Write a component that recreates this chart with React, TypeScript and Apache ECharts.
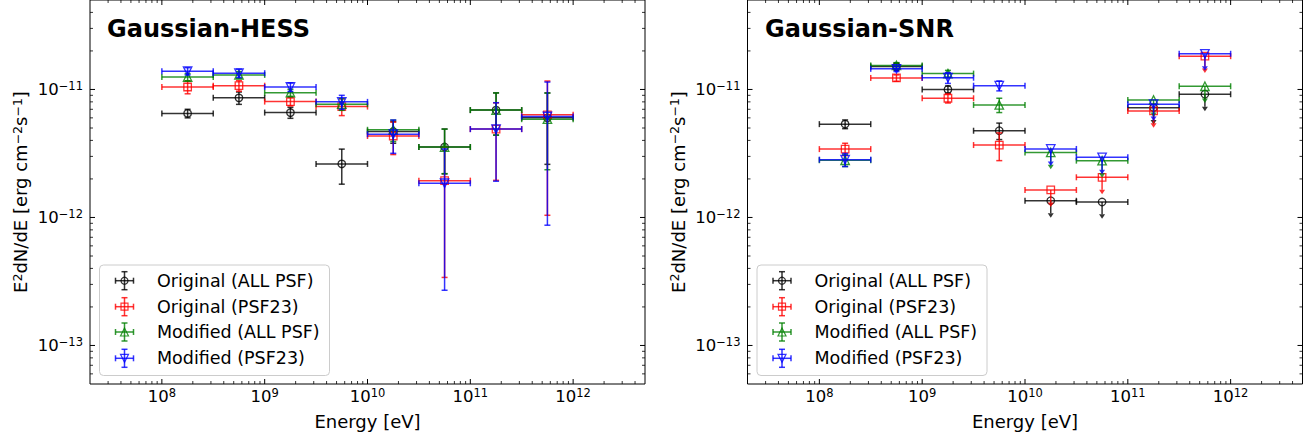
import React, { useEffect, useRef } from "react";
import * as echarts from "echarts";

// Energy bins (eV): half-decade bins
const binLow = [1e8, 3.16e8, 1e9, 3.16e9, 1e10, 3.16e10, 1e11, 3.16e11];
const binHigh = [3.16e8, 1e9, 3.16e9, 1e10, 3.16e10, 1e11, 3.16e11, 1e12];
const binCenter = [1.78e8, 5.62e8, 1.78e9, 5.62e9, 1.78e10, 5.62e10, 1.78e11, 5.62e11];

const seriesNames = ["Original (ALL PSF)", "Original (PSF23)", "Modified (ALL PSF)", "Modified (PSF23)"];
const seriesColors = ["#000000", "#ff0000", "#008000", "#0000ff"];

// Gaussian-HESS: E^2 dN/dE [erg cm^-2 s^-1] and symmetric errors
const hessOrigAll = [6.5e-12, 8.6e-12, 6.6e-12, 2.62e-12, 4.7e-12, 3.55e-12, 6.9e-12, 6.0e-12];
const hessOrigAllErr = [0.5e-12, 0.95e-12, 0.65e-12, 0.8e-12, 0.9e-12, 1.36e-12, 2.5e-12, 3.4e-12];
const hessOrigPsf23 = [1.045e-11, 1.07e-11, 8.04e-12, 7.35e-12, 4.33e-12, 1.94e-12, 4.9e-12, 6.34e-12];
const hessOrigPsf23Err = [1.2e-12, 1.0e-12, 0.6e-12, 1.1e-12, 1.23e-12, 1.6e-12, 2.95e-12, 5.3e-12];
const hessModAll = [1.25e-11, 1.3e-11, 9.44e-12, 7.67e-12, 4.84e-12, 3.55e-12, 6.9e-12, 5.86e-12];
const hessModAllErr = [0.8e-12, 0.8e-12, 0.6e-12, 0.8e-12, 0.92e-12, 1.35e-12, 2.5e-12, 3.5e-12];
const hessModPsf23 = [1.39e-11, 1.34e-11, 1.045e-11, 8.0e-12, 4.47e-12, 1.85e-12, 4.9e-12, 6.15e-12];
const hessModPsf23Err = [0.9e-12, 1.0e-12, 0.8e-12, 1.0e-12, 1.3e-12, 1.58e-12, 2.98e-12, 5.28e-12];
const hessUpperLimit = [0, 0, 0, 0, 0, 0, 0, 0];

// Gaussian-SNR
const snrOrigAll = [5.36e-12, 1.51e-11, 1.0e-11, 4.76e-12, 1.35e-12, 1.32e-12, 7.21e-12, 9.18e-12];
const snrOrigAllErr = [0.42e-12, 0.1e-11, 0.65e-12, 0.7e-12, 0.27e-12, 0.26e-12, 1.44e-12, 1.84e-12];
const snrOrigPsf23 = [3.42e-12, 1.23e-11, 8.54e-12, 3.68e-12, 1.64e-12, 2.06e-12, 6.8e-12, 1.82e-11];
const snrOrigPsf23Err = [0.38e-12, 0.07e-11, 0.7e-12, 0.9e-12, 0.33e-12, 0.41e-12, 1.36e-12, 0.36e-11];
const snrModAll = [2.8e-12, 1.54e-11, 1.33e-11, 7.57e-12, 3.22e-12, 2.78e-12, 8.28e-12, 1.06e-11];
const snrModAllErr = [0.3e-12, 0.08e-11, 0.08e-11, 0.97e-12, 0.64e-12, 0.56e-12, 1.66e-12, 0.21e-11];
const snrModPsf23 = [2.83e-12, 1.45e-11, 1.235e-11, 1.07e-11, 3.43e-12, 2.95e-12, 7.67e-12, 1.9e-11];
const snrModPsf23Err = [0.33e-12, 0.07e-11, 0.12e-11, 0.95e-12, 0.69e-12, 0.59e-12, 1.53e-12, 0.38e-11];
const snrUpperLimit = [0, 0, 0, 0, 1, 1, 1, 1];

const X_MIN = 2e7;
const X_MAX = 5e12;
const Y_MIN = 5e-14;
const Y_MAX = 5e-11;

const FONT = "DejaVu Sans";
const TICK_FS = 16.5;
const SUP_FS = 11.5;
const LABEL_FS = 18;
const LEGEND_FS = 17.5;
const LINE_W = 1.5;
const ALPHA = 0.8;
const CAP = 3;

const GRID_TOP = -1.5;
const GRID_H = 385.5;
const GRID_W = 555;
const GRID_LEFTS = [90, 747.5];

const markerSymbols = ["circle", "rect", "triangle", "triangle"];
const markerRotate = [0, 0, 0, 180];
const markerSizes = [7.5, 7.5, 8.5, 8.5];

function powerLabel(v: number): string {
  const e = Math.log10(v);
  const r = Math.round(e);
  if (Math.abs(e - r) > 1e-6) return "";
  const exp = r < 0 ? "\u2212" + Math.abs(r) : String(r);
  return `{b|10}{s|${exp}}`;
}

const powerRich = {
  b: { fontSize: TICK_FS, fontFamily: FONT, color: "#000", verticalAlign: "bottom", lineHeight: 18 },
  s: { fontSize: SUP_FS, fontFamily: FONT, color: "#000", verticalAlign: "top", lineHeight: 13, padding: [0, 0, 9, 0] },
};

function errorBarRenderer(color: string) {
  return (params: any, api: any) => {
    const xc = api.value(0);
    const yv = api.value(1);
    const c = api.coord([xc, yv]);
    const xl = api.coord([api.value(2), yv]);
    const xh = api.coord([api.value(3), yv]);
    const yl = api.coord([xc, api.value(4)]);
    const yh = api.coord([xc, api.value(5)]);
    const ul = api.value(6) === 1;
    const st = { stroke: color, lineWidth: LINE_W, opacity: ALPHA };
    const kids: any[] = [
      { type: "line", shape: { x1: xl[0], y1: c[1], x2: xh[0], y2: c[1] }, style: st },
      { type: "line", shape: { x1: xl[0], y1: c[1] - CAP, x2: xl[0], y2: c[1] + CAP }, style: st },
      { type: "line", shape: { x1: xh[0], y1: c[1] - CAP, x2: xh[0], y2: c[1] + CAP }, style: st },
      { type: "line", shape: { x1: c[0], y1: yl[1], x2: c[0], y2: yh[1] }, style: st },
    ];
    if (ul) {
      kids.push({
        type: "polygon",
        shape: { points: [[c[0] - 3, yl[1]], [c[0] + 3, yl[1]], [c[0], yl[1] + 4.5]] },
        style: { fill: color, opacity: ALPHA },
      });
    } else {
      kids.push({ type: "line", shape: { x1: c[0] - CAP, y1: yl[1], x2: c[0] + CAP, y2: yl[1] }, style: st });
      kids.push({ type: "line", shape: { x1: c[0] - CAP, y1: yh[1], x2: c[0] + CAP, y2: yh[1] }, style: st });
    }
    return { type: "group", children: kids };
  };
}

// Ticks on all four sides (major and minor), pointing inwards
function tickData() {
  const d: number[][] = [];
  for (let e = 7; e <= 12; e++) {
    for (let m = 1; m <= 9; m++) {
      const v = m * Math.pow(10, e);
      if (v <= X_MIN * 1.0001 || v >= X_MAX * 0.9999) continue;
      d.push([v, Y_MIN, m === 1 ? 2 : 0]);
    }
  }
  for (let e = -14; e <= -11; e++) {
    for (let m = 1; m <= 9; m++) {
      const v = m * Math.pow(10, e);
      if (v <= Y_MIN * 1.0001 || v >= Y_MAX * 0.9999) continue;
      d.push([X_MIN, v, m === 1 ? 3 : 1]);
    }
  }
  return d;
}

function tickRenderer(params: any, api: any) {
  const cs = params.coordSys;
  const kind = api.value(2);
  const p = api.coord([api.value(0), api.value(1)]);
  const major = kind >= 2;
  const len = major ? 5 : 3;
  const st = { stroke: "#000", lineWidth: major ? 1 : 0.8 };
  const top = cs.y;
  const bottom = cs.y + cs.height;
  const left = cs.x;
  const right = cs.x + cs.width;
  if (kind === 0 || kind === 2) {
    return {
      type: "group",
      children: [
        { type: "line", shape: { x1: p[0], y1: bottom, x2: p[0], y2: bottom - len }, style: st },
        { type: "line", shape: { x1: p[0], y1: top, x2: p[0], y2: top + len }, style: st },
      ],
    };
  }
  return {
    type: "group",
    children: [
      { type: "line", shape: { x1: left, y1: p[1], x2: left + len, y2: p[1] }, style: st },
      { type: "line", shape: { x1: right, y1: p[1], x2: right - len, y2: p[1] }, style: st },
    ],
  };
}

function legendGroup(x: number, y: number) {
  const children: any[] = [
    {
      type: "rect",
      shape: { x: 0, y: 0, width: 230, height: 110.5, r: 4 },
      style: { fill: "rgba(255,255,255,0.8)", stroke: "#cccccc", lineWidth: 1 },
    },
  ];
  const rowY = [15.7, 41.7, 67, 93.3];
  const gx = 25;
  seriesNames.forEach((name, i) => {
    const cy = rowY[i];
    const color = seriesColors[i];
    const st = { stroke: color, lineWidth: LINE_W, opacity: ALPHA };
    children.push(
      { type: "line", shape: { x1: gx - 9, y1: cy, x2: gx + 9, y2: cy }, style: st },
      { type: "line", shape: { x1: gx - 9, y1: cy - CAP, x2: gx - 9, y2: cy + CAP }, style: st },
      { type: "line", shape: { x1: gx + 9, y1: cy - CAP, x2: gx + 9, y2: cy + CAP }, style: st },
      { type: "line", shape: { x1: gx, y1: cy - 9, x2: gx, y2: cy + 9 }, style: st },
      { type: "line", shape: { x1: gx - CAP, y1: cy - 9, x2: gx + CAP, y2: cy - 9 }, style: st },
      { type: "line", shape: { x1: gx - CAP, y1: cy + 9, x2: gx + CAP, y2: cy + 9 }, style: st }
    );
    const mst = { fill: "none", stroke: color, lineWidth: 1.2, opacity: ALPHA };
    if (i === 0) children.push({ type: "circle", shape: { cx: gx, cy, r: 3.5 }, style: mst });
    else if (i === 1) children.push({ type: "rect", shape: { x: gx - 3.5, y: cy - 3.5, width: 7, height: 7 }, style: mst });
    else if (i === 2)
      children.push({ type: "polygon", shape: { points: [[gx, cy - 4], [gx - 4, cy + 4], [gx + 4, cy + 4]] }, style: mst });
    else children.push({ type: "polygon", shape: { points: [[gx, cy + 4], [gx - 4, cy - 4], [gx + 4, cy - 4]] }, style: mst });
    children.push({
      type: "text",
      x: 57.5,
      y: cy,
      style: { text: name, fill: "#000", fontSize: LEGEND_FS, fontFamily: FONT, verticalAlign: "middle", align: "left" },
    });
  });
  return { type: "group", x, y, children };
}

function panelSeries(g: number, values: number[][], errs: number[][], ul: number[]) {
  const out: any[] = [];
  values.forEach((vals, k) => {
    const color = seriesColors[k];
    const data = vals.map((v, i) => [
      binCenter[i],
      v,
      binLow[i],
      binHigh[i],
      v - errs[k][i],
      ul[i] ? v : v + errs[k][i],
      ul[i],
    ]);
    out.push({
      type: "custom",
      name: seriesNames[k],
      xAxisIndex: g,
      yAxisIndex: g,
      renderItem: errorBarRenderer(color),
      encode: { x: 0, y: 1 },
      data,
      silent: true,
      z: 2 + k * 2,
    });
    out.push({
      type: "scatter",
      name: seriesNames[k],
      xAxisIndex: g,
      yAxisIndex: g,
      data: vals.map((v, i) => [binCenter[i], v]),
      symbol: markerSymbols[k],
      symbolRotate: markerRotate[k],
      symbolSize: markerSizes[k],
      itemStyle: { color: "transparent", borderColor: color, borderWidth: 1.3, opacity: ALPHA },
      silent: true,
      z: 3 + k * 2,
    });
  });
  out.push({
    type: "custom",
    xAxisIndex: g,
    yAxisIndex: g,
    renderItem: tickRenderer,
    encode: { x: 0, y: 1 },
    data: tickData(),
    silent: true,
    clip: false,
    z: 20,
  });
  return out;
}

export default function App() {
  const ref = useRef<HTMLDivElement>(null);
  useEffect(() => {
    if (!ref.current) return;
    const chart = echarts.init(ref.current, undefined, { renderer: "svg" });
    const grids = GRID_LEFTS.map((left) => ({
      left,
      top: GRID_TOP,
      width: GRID_W,
      height: GRID_H,
      show: true,
      borderColor: "#000",
      borderWidth: 1,
      backgroundColor: "transparent",
    }));
    const xAxes = GRID_LEFTS.map((_, g) => ({
      type: "log",
      logBase: 10,
      gridIndex: g,
      min: X_MIN,
      max: X_MAX,
      axisLine: { show: false },
      axisTick: { show: false },
      splitLine: { show: false },
      axisLabel: { formatter: powerLabel, rich: powerRich, margin: 3, showMinLabel: false, showMaxLabel: false },
      name: "Energy [eV]",
      nameLocation: "middle",
      nameGap: 28,
      nameTextStyle: { fontSize: LABEL_FS, fontFamily: FONT, color: "#000" },
    }));
    const yName = "{n|E}{s|2}{n|dN/dE [erg cm}{s|\u22122}{n|s}{s|\u22121}{n|]}";
    const yAxes = GRID_LEFTS.map((_, g) => ({
      type: "log",
      logBase: 10,
      gridIndex: g,
      min: Y_MIN,
      max: Y_MAX,
      axisLine: { show: false },
      axisTick: { show: false },
      splitLine: { show: false },
      axisLabel: { formatter: powerLabel, rich: powerRich, margin: 7, showMinLabel: false, showMaxLabel: false },
      name: yName,
      nameLocation: "middle",
      nameRotate: 90,
      nameGap: 60,
      nameTextStyle: {
        rich: {
          n: { fontSize: LABEL_FS, fontFamily: FONT, color: "#000", verticalAlign: "bottom", lineHeight: 19 },
          s: { fontSize: 12.5, fontFamily: FONT, color: "#000", verticalAlign: "top", lineHeight: 13, padding: [0, 0, 10, 0] },
        },
      },
    }));
    const series = [
      ...panelSeries(
        0,
        [hessOrigAll, hessOrigPsf23, hessModAll, hessModPsf23],
        [hessOrigAllErr, hessOrigPsf23Err, hessModAllErr, hessModPsf23Err],
        hessUpperLimit
      ),
      ...panelSeries(
        1,
        [snrOrigAll, snrOrigPsf23, snrModAll, snrModPsf23],
        [snrOrigAllErr, snrOrigPsf23Err, snrModAllErr, snrModPsf23Err],
        snrUpperLimit
      ),
    ];
    chart.setOption({
      animation: false,
      backgroundColor: "#fff",
      title: [
        { text: "Gaussian-HESS", left: 107, top: 17, padding: 0, textStyle: { fontSize: 24, fontWeight: "bold", fontFamily: FONT, color: "#000" } },
        { text: "Gaussian-SNR", left: 765, top: 17, padding: 0, textStyle: { fontSize: 24, fontWeight: "bold", fontFamily: FONT, color: "#000" } },
      ],
      grid: grids,
      xAxis: xAxes,
      yAxis: yAxes,
      series,
      graphic: [legendGroup(99.5, 265), legendGroup(757, 265)],
    });
    return () => chart.dispose();
  }, []);
  return <div ref={ref} style={{ position: "fixed", left: 0, top: 0, width: 1310, height: 438 }} />;
}
